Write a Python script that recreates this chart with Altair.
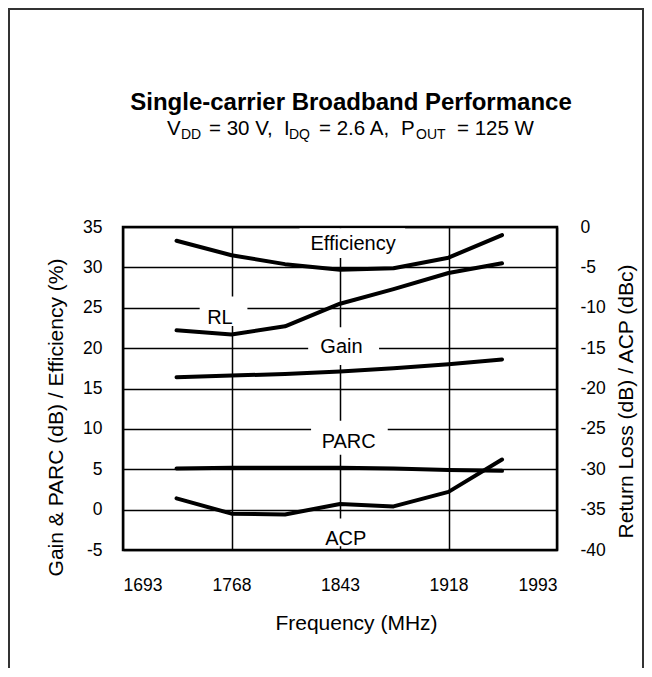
import altair as alt
import pandas as pd

# ---------------- data ----------------
freq = [1730, 1768, 1805, 1843, 1880, 1918, 1955]
efficiency = [33.3, 31.5, 30.4, 29.7, 29.9, 31.2, 34.0]   # %   (left axis)
gain = [16.4, 16.6, 16.8, 17.1, 17.5, 18.0, 18.6]          # dB  (left axis)
parc = [5.1, 5.2, 5.2, 5.2, 5.1, 4.9, 4.8]                 # dB  (left axis)
rl = [-12.8, -13.3, -12.3, -9.5, -7.7, -5.7, -4.5]         # dB  (right axis)
acp = [-33.6, -35.5, -35.6, -34.3, -34.6, -32.8, -28.8]    # dBc (right axis)

x_ticks = [1693, 1768, 1843, 1918, 1993]
left_ticks = [-5, 0, 5, 10, 15, 20, 25, 30, 35]
right_ticks = [-40, -35, -30, -25, -20, -15, -10, -5, 0]

# series labels: text, x (MHz), baseline y (left-axis units)
label_text = ["Efficiency", "RL", "Gain", "PARC", "ACP"]
label_x = [1852, 1760, 1844, 1849, 1847]
label_y = [32.15, 23.0, 19.36, 7.59, -4.38]
# white boxes behind the labels (MHz / left-axis units)
box_x1 = [1815, 1746, 1821, 1823, 1829]
box_x2 = [1888, 1779, 1870, 1876, 1865]
box_y1 = [31.16, 22.75, 17.9, 6.8, -4.55]
box_y2 = [34.85, 26.4, 22.6, 11.0, -1.1]

FONT = "Liberation Sans"
W, H = 434, 323

left_df = pd.DataFrame({
    "freq": freq * 3,
    "value": efficiency + gain + parc,
    "series": ["Efficiency"] * 7 + ["Gain"] * 7 + ["PARC"] * 7,
})
right_df = pd.DataFrame({
    "freq": freq * 2,
    "value": rl + acp,
    "series": ["RL"] * 7 + ["ACP"] * 7,
})
label_df = pd.DataFrame({"text": label_text, "freq": label_x, "y": label_y})
box_df = pd.DataFrame({"freq": box_x1, "freq2": box_x2, "y": box_y1, "y2": box_y2})

x_scale = alt.Scale(domain=[1693, 1993], nice=False, zero=False)
left_scale = alt.Scale(domain=[-5, 35], nice=False, zero=False)
right_scale = alt.Scale(domain=[-40, 0], nice=False, zero=False)

x_axis = alt.Axis(
    values=x_ticks, title="Frequency (MHz)", grid=True, gridColor="black",
    gridWidth=1.5, ticks=False, tickSize=0, domain=False,
    labelExpr="'' + datum.value", labelFontSize=17.5, labelPadding=26,
    labelFont=FONT, labelColor="black",
    titleFont=FONT, titleFontSize=21, titleFontWeight="normal", titleColor="black",
    titleX=233, titleY=79, titleAlign="center", titleBaseline="alphabetic",
)
X = alt.X("freq:Q", scale=x_scale, axis=x_axis)

left_axis = alt.Axis(
    values=left_ticks, orient="left", title="Gain & PARC (dB) / Efficiency (%)",
    grid=True, gridColor="black", gridWidth=1.5, ticks=False, tickSize=0,
    domain=False, labelExpr="'' + datum.value", labelFontSize=17.5,
    labelPadding=21, labelFont=FONT, labelColor="black",
    titleFont=FONT, titleFontSize=21, titleFontWeight="normal", titleColor="black",
    titleAngle=270, titleX=-61, titleY=190, titleAlign="center",
    titleBaseline="alphabetic",
)
right_axis = alt.Axis(
    values=right_ticks, orient="right", title="Return Loss (dB) / ACP (dBc)",
    grid=False, ticks=False, tickSize=0, domain=False,
    labelExpr="'' + datum.value", labelFontSize=17.5, labelPadding=23,
    labelFont=FONT, labelColor="black",
    titleFont=FONT, titleFontSize=21, titleFontWeight="normal", titleColor="black",
    titleAngle=270, titleX=75, titleY=174, titleAlign="center",
    titleBaseline="alphabetic",
)

boxes = alt.Chart(box_df).mark_rect(fill="white", stroke=None).encode(
    x=X, x2="freq2:Q",
    y=alt.Y("y:Q", scale=left_scale, axis=None), y2="y2:Q",
)

left_lines = alt.Chart(left_df).mark_line(
    color="black", strokeWidth=4, strokeCap="round", strokeJoin="round"
).encode(
    x=X,
    y=alt.Y("value:Q", scale=left_scale, axis=left_axis),
    detail="series:N",
)

right_lines = alt.Chart(right_df).mark_line(
    color="black", strokeWidth=4, strokeCap="round", strokeJoin="round"
).encode(
    x=X,
    y=alt.Y("value:Q", scale=right_scale, axis=right_axis),
    detail="series:N",
)

labels = alt.Chart(label_df).mark_text(
    font=FONT, fontSize=20, color="black", align="center", baseline="alphabetic"
).encode(
    x=X,
    y=alt.Y("y:Q", scale=left_scale, axis=None),
    text="text:N",
)


def piece(txt, px, py, size, weight="normal", align="left"):
    # px, py: page position of the text anchor; plot area origin is at (123, 227)
    return alt.Chart(pd.DataFrame({"t": [txt]})).mark_text(
        font=FONT, fontSize=size, fontWeight=weight, color="black",
        align=align, baseline="alphabetic",
    ).encode(x=alt.value(px - 123), y=alt.value(py - 227), text="t:N")


title_layers = [
    piece("Single-carrier Broadband Performance", 351, 110, 24, "bold", "center"),
    piece("V", 167, 135, 20.5),
    piece("DD", 181, 138.5, 14),
    piece("= 30 V,", 209, 135, 20.5),
    piece("I", 284, 135, 20.5),
    piece("DQ", 289, 138.5, 14),
    piece("= 2.6 A,", 319, 135, 20.5),
    piece("P", 401, 135, 20.5),
    piece("OUT", 416, 138.5, 14),
    piece("= 125 W", 457, 135, 20.5),
]

frame = alt.Chart(pd.DataFrame({"a": [0]})).mark_rect(
    fill="white", fillOpacity=0, stroke="#333333", strokeWidth=2
).encode(
    x=alt.value(-114), x2=alt.value(520), y=alt.value(-218), y2=alt.value(470)
)

chart = alt.layer(
    boxes, left_lines, right_lines, labels, *title_layers, frame
).resolve_scale(
    y="independent"
).properties(
    width=W, height=H,
    autosize=alt.AutoSizeParams(type="none"),
    padding={"left": 115, "top": 219, "right": 87, "bottom": 118},
).configure_view(
    stroke="black", strokeWidth=2.5
)

chart.save("out.html", embed_options={"renderer": "svg", "actions": False})
